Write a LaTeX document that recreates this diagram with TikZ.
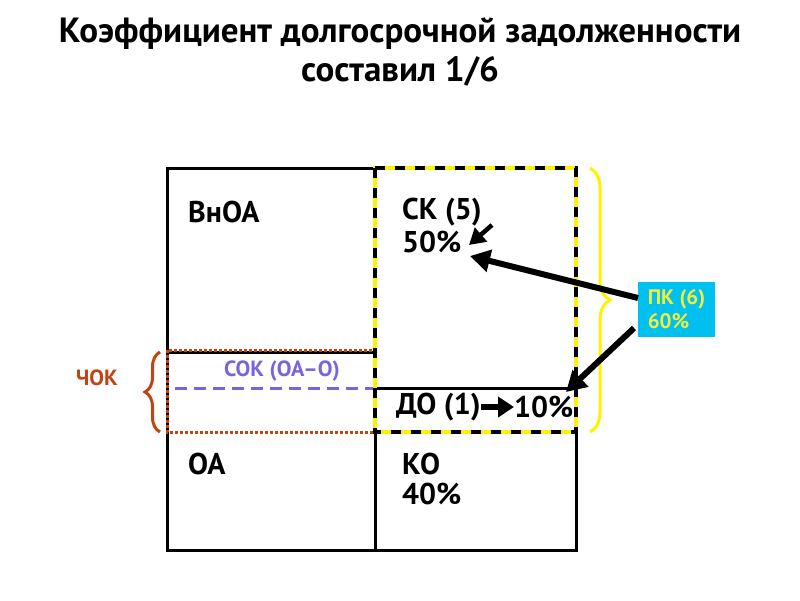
\documentclass[tikz,border=0pt]{standalone}
\usepackage{fontspec}
\setmainfont{PT Sans}
\usetikzlibrary{decorations.pathreplacing,arrows.meta}
\definecolor{chok}{RGB}{190,70,20}
\definecolor{sok}{RGB}{120,100,220}
\definecolor{pkfill}{RGB}{0,192,240}
\definecolor{pktext}{RGB}{240,240,60}
\tikzset{lbl/.style={anchor=west,font=\fontsize{30}{32}\selectfont\bfseries,inner sep=0pt},
 thick arrow/.style={line width=6pt,-{Triangle[length=20pt,width=22pt]}},
 box/.style={line width=3pt}}
\begin{document}
\begin{tikzpicture}[x=1pt,y=-1pt]
\useasboundingbox (0,0) rectangle (800,600);
\node[font=\fontsize{35}{39}\selectfont\bfseries,align=center] (title) at (400,52) {Коэффициент долгосрочной задолженности\\составил 1/6};
% grid
\draw[box] (167,168) rectangle (576,550);
\draw[box] (375,168) -- (375,550);
\draw[box] (167,352) -- (375,352);
\draw[box] (375,388) -- (576,388);
\draw[box] (375,432) -- (576,432);
% ChOK dotted
\draw[chok,line width=3pt,dotted] (167,350) rectangle (375,432);
\draw[sok,line width=3pt,dash pattern=on 12pt off 7pt] (175,388) -- (375,388);
% yellow dashed rectangle
\draw[yellow,line width=3.5pt] (375,168) rectangle (576,432);
\draw[black,line width=3.5pt,dash pattern=on 10pt off 10pt] (375,168) rectangle (576,432);
% braces
\draw[yellow,line width=3pt,decorate,decoration={brace,amplitude=20pt}] (590,168) -- (590,432);
\draw[chok,line width=3pt,decorate,decoration={brace,amplitude=15pt}] (160,432) -- (160,352);
\node[chok,font=\fontsize{22}{24}\selectfont\bfseries] (chokl) at (97,378) {ЧОК};
\node[sok,font=\fontsize{22}{24}\selectfont\bfseries] (sokl) at (282,371) {СОК (ОА–О)};
% labels
\node[lbl] (vnoa) at (188,212) {ВнОА};
\node[lbl] (sk) at (402,212) {СК (5)};
\node[lbl] (sk50) at (402,242) {50\%};
\node[lbl] (oa) at (188,464) {ОА};
\node[lbl] (ko) at (402,464) {КО};
\node[lbl] (ko40) at (402,494) {40\%};
\node[lbl] (do) at (396,407) {ДО (1)};
\node[lbl] (do10) at (514,407) {10\%};
% PK
\node[fill=pkfill,text=pktext,font=\fontsize{21}{24}\selectfont\bfseries,align=left,minimum width=77pt,minimum height=55pt,inner sep=4pt] (pk) at (676.5,309.5) {ПК (6)\\60\%};
% arrows
\coordinate (a1s) at (492,225); \coordinate (a1e) at (469,245);
\draw[line width=4.5pt,-{Triangle[length=16pt,width=18pt]}] (a1s) -- (a1e);
\coordinate (p1) at (638,298); \coordinate (t1) at (470,256);
\draw[thick arrow] (p1) -- (t1);
\coordinate (p2) at (634,328); \coordinate (t2) at (566,392);
\draw[thick arrow] (p2) -- (t2);
\draw[line width=6pt,-{Triangle[length=16pt,width=20pt]}] (do.east) -- (do10.west);
\end{tikzpicture}
\end{document}
